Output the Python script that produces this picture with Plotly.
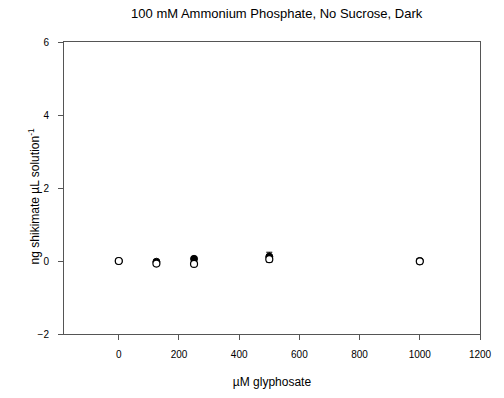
import plotly.graph_objects as go

glyphosate = [0, 125, 250, 500, 1000]
filled_y = [0.0, -0.02, 0.06, 0.12, 0.0]
filled_err = [0.02, 0.04, 0.05, 0.12, 0.06]
open_y = [0.0, -0.07, -0.08, 0.05, -0.01]
open_err = [0.02, 0.04, 0.04, 0.08, 0.07]

x_ticks = [0, 200, 400, 600, 800, 1000, 1200]
y_ticks = [-2, 0, 2, 4, 6]

fig = go.Figure()
fig.add_trace(go.Scatter(
    x=glyphosate, y=filled_y, mode="markers",
    marker=dict(symbol="circle", size=7, color="black", line=dict(color="black", width=1)),
    error_y=dict(type="data", array=filled_err, color="black", thickness=1, width=3),
    showlegend=False))
fig.add_trace(go.Scatter(
    x=glyphosate, y=open_y, mode="markers",
    marker=dict(symbol="circle", size=7, color="white", line=dict(color="black", width=1.2)),
    error_y=dict(type="data", array=open_err, color="black", thickness=1, width=3),
    showlegend=False))

font = "Liberation Sans, Arial, sans-serif"
fig.update_layout(
    width=504, height=398,
    margin=dict(l=64, r=15, t=42, b=60),
    paper_bgcolor="white", plot_bgcolor="white",
    font=dict(family=font, color="black"),
    title=dict(text="100 mM Ammonium Phosphate, No Sucrose, Dark",
               x=0.549, xanchor="center", y=0.965, yanchor="middle",
               font=dict(size=13, family=font, color="black")),
    xaxis=dict(range=[-182, 1200], tickvals=x_ticks, ticks="outside", ticklen=5,
               tickcolor="#555", tickwidth=1, showline=True, linecolor="#555", linewidth=1,
               mirror=True, showgrid=False, zeroline=False, ticklabelstandoff=6,
               tickfont=dict(size=10), title=dict(text="µM glyphosate", font=dict(size=12), standoff=18)),
    yaxis=dict(range=[-2, 6], tickvals=y_ticks, ticks="outside", ticklen=5,
               tickcolor="#555", tickwidth=1, showline=True, linecolor="#555", linewidth=1,
               mirror=True, showgrid=False, zeroline=False, ticklabelstandoff=7,
               tickfont=dict(size=10)),
    annotations=[dict(text="ng shikimate µL solution<sup>-1</sup>", textangle=-90,
                      xref="paper", yref="paper", x=-0.073, y=0.47,
                      xanchor="center", yanchor="middle", showarrow=False,
                      font=dict(size=12, family=font, color="black"))],
)
fig.write_html("out.html")
